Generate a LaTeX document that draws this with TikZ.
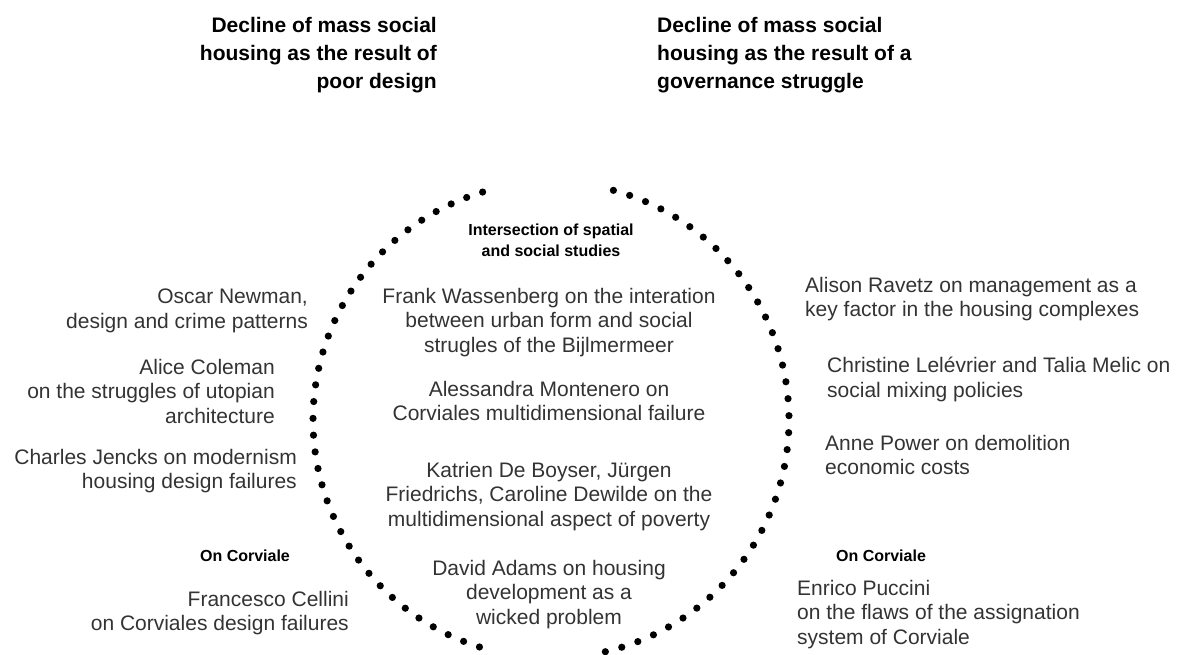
\documentclass[tikz,border=0pt]{standalone}
\usepackage{fontspec}
\setmainfont{Liberation Sans}
\begin{document}
\begin{tikzpicture}[x=1pt,y=-1pt,
  head/.style={font=\fontsize{21}{28}\selectfont\bfseries, text=black, inner sep=0pt},
  sub/.style={font=\fontsize{16}{21}\selectfont\bfseries, text=black, inner sep=0pt},
  body/.style={font=\fontsize{21}{24.5}\selectfont, text=black!80, inner sep=0pt},
  dot/.style={fill=black}]
\useasboundingbox (0,0) rectangle (1182,654);
% dotted arcs
\foreach \i in {0,...,36} {
  \pgfmathsetmacro\a{106.7+\i*145.8/36}
  \fill[dot] ({551+238*cos(\a)},{420-238*sin(\a)}) circle[radius=3.6pt];
}
\foreach \i in {0,...,37} {
  \pgfmathsetmacro\a{74.8-\i*151.6/37}
  \fill[dot] ({551+238*cos(\a)},{420-238*sin(\a)}) circle[radius=3.6pt];
}
% headers
\node[head, anchor=north east, align=right] (hl) at (437,17) {Decline of mass social\\housing as the result of\\poor design};
\node[head, anchor=north west, align=left] (hr) at (657,17) {Decline of mass social\\housing as the result of a\\governance struggle};
% centre
\node[sub, align=center, anchor=north] (cs) at (551,224) {Intersection of spatial\\and social studies};
\node[body, align=center, anchor=north] (c1) at (549,288) {Frank Wassenberg on the interation\\between urban form and social\\strugles of the Bijlmermeer};
\node[body, align=center, anchor=north] (c2) at (549,381) {Alessandra Montenero on\\Corviales multidimensional failure};
\node[body, align=center, anchor=north] (c3) at (549,462) {Katrien De Boyser, J\"urgen\\Friedrichs, Caroline Dewilde on the\\multidimensional aspect of poverty};
\node[body, align=center, anchor=north] (c4) at (549,560) {David Adams on housing\\development as a\\wicked problem};
% left
\node[body, align=right, anchor=north east] (l1) at (308,289) {Oscar Newman,\\design and crime patterns};
\node[body, align=right, anchor=north east] (l2) at (275,359) {Alice Coleman\\on the struggles of utopian\\architecture};
\node[body, align=right, anchor=north east] (l3) at (297,449) {Charles Jencks on modernism\\housing design failures};
\node[sub, anchor=center] (lo) at (245,556) {On Corviale};
\node[body, align=right, anchor=north east] (l4) at (349,591) {Francesco Cellini\\on Corviales design failures};
% right
\node[body, align=left, anchor=north west] (r1) at (805,277) {Alison Ravetz on management as a\\key factor in the housing complexes};
\node[body, align=left, anchor=north west] (r2) at (827,357) {Christine Lel\'evrier and Talia Melic on\\social mixing policies};
\node[body, align=left, anchor=north west] (r3) at (825,435) {Anne Power on demolition\\economic costs};
\node[sub, anchor=center] (ro) at (881,556) {On Corviale};
\node[body, align=left, anchor=north west] (r4) at (797,580) {Enrico Puccini\\on the flaws of the assignation\\system of Corviale};
\end{tikzpicture}
\end{document}
